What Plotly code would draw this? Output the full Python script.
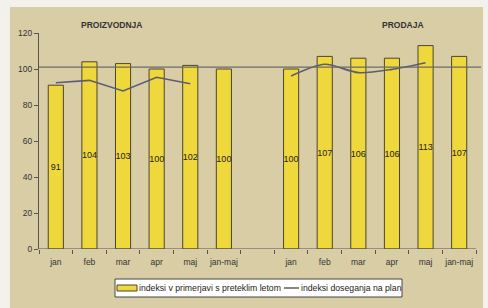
import plotly.graph_objects as go

months = ["jan", "feb", "mar", "apr", "maj", "jan-maj"]
proizvodnja_idx = [91, 104, 103, 100, 102, 100]
prodaja_idx = [100, 107, 106, 106, 113, 107]
proizvodnja_plan = [92.4, 93.7, 87.8, 95.4, 91.8]
prodaja_plan = [96.1, 102.6, 98.0, 99.8, 103.5]
plan_level = 101
yticks = [0, 20, 40, 60, 80, 100, 120]
legend_bars = "indeksi v primerjavi s preteklim letom"
legend_line = "indeksi doseganja na plan"

x_proizv = list(range(len(months)))
x_prod = [i + len(months) + 1 for i in range(len(months))]

FONT = "Arial, Liberation Sans, sans-serif"
YELLOW = "#efd83c"
BAR_LINE = "#4a4530"
LINE_C = "#5c5c72"

L, T, W, H = 39, 33, 437, 216


def px(X):
    return (X - L) / W


def py(Y):
    return (T + H - Y) / H


fig = go.Figure()
fig.add_trace(go.Bar(
    x=x_proizv + x_prod,
    y=proizvodnja_idx + prodaja_idx,
    text=[str(v) for v in proizvodnja_idx + prodaja_idx],
    textposition="inside", insidetextanchor="middle", constraintext="none",
    textangle=0,
    textfont=dict(size=9, color="#222", family=FONT),
    marker=dict(color=YELLOW, line=dict(color=BAR_LINE, width=1)),
    width=0.45,
    name=legend_bars, showlegend=False,
))
fig.add_trace(go.Scatter(
    x=x_proizv[:len(proizvodnja_plan)], y=proizvodnja_plan, mode="lines",
    line=dict(color=LINE_C, width=1.6),
    name=legend_line, showlegend=False,
))
fig.add_trace(go.Scatter(
    x=x_prod[:len(prodaja_plan)], y=prodaja_plan, mode="lines",
    line=dict(color=LINE_C, width=1.6, shape="spline", smoothing=0.8),
    name=legend_line, showlegend=False,
))

# beige panel
fig.add_shape(type="rect", xref="paper", yref="paper",
              x0=px(10), x1=px(483), y0=py(320), y1=py(7),
              fillcolor="#d9cda5", line=dict(width=0), layer="below")
# reference line
fig.add_shape(type="line", xref="paper", yref="y",
              x0=0, x1=px(481), y0=plan_level, y1=plan_level,
              line=dict(color="#6a6a6a", width=1.2))
# x axis baseline
fig.add_shape(type="line", xref="paper", yref="y", x0=0, x1=1, y0=0, y1=0,
              line=dict(color="#555", width=1.2))

fig.add_annotation(text="<b>PROIZVODNJA</b>", xref="paper", yref="paper",
                   x=px(111), y=py(25), xanchor="center", yanchor="middle",
                   showarrow=False,
                   font=dict(size=8.5, color="#333", family=FONT))
fig.add_annotation(text="<b>PRODAJA</b>", xref="paper", yref="paper",
                   x=px(403), y=py(25), xanchor="center", yanchor="middle",
                   showarrow=False,
                   font=dict(size=8.5, color="#333", family=FONT))

# manual legend
fig.add_shape(type="rect", xref="paper", yref="paper",
              x0=px(115), x1=px(402), y0=py(297), y1=py(279),
              fillcolor="white", line=dict(color="#444", width=1))
fig.add_shape(type="rect", xref="paper", yref="paper",
              x0=px(117), x1=px(137), y0=py(291), y1=py(285),
              fillcolor=YELLOW, line=dict(color=BAR_LINE, width=1))
fig.add_annotation(text=legend_bars, xref="paper", yref="paper",
                   x=px(137), y=py(288), xanchor="left", yanchor="middle",
                   showarrow=False,
                   font=dict(size=8.7, color="#222", family=FONT))
fig.add_shape(type="line", xref="paper", yref="paper",
              x0=px(284), x1=px(299), y0=py(288), y1=py(288),
              line=dict(color=LINE_C, width=1.5))
fig.add_annotation(text=legend_line, xref="paper", yref="paper",
                   x=px(299), y=py(288), xanchor="left", yanchor="middle",
                   showarrow=False,
                   font=dict(size=8.7, color="#222", family=FONT))

fig.update_layout(
    width=488, height=308,
    margin=dict(l=L, r=488 - L - W, t=T, b=308 - T - H, autoexpand=False),
    paper_bgcolor="#f3f1ec", plot_bgcolor="rgba(0,0,0,0)",
    font=dict(family=FONT, size=9, color="#333"),
    showlegend=False,
    bargap=0,
)
fig.update_xaxes(
    range=[-0.5, len(months) * 2 + 0.5],
    tickvals=x_proizv + x_prod, ticktext=months + months,
    ticks="", showgrid=False, zeroline=False,
    showline=False, automargin=False, ticklabelstandoff=6,
    tickfont=dict(size=8.5, color="#333"),
    minor=dict(tick0=-0.5, dtick=1, ticks="outside", ticklen=4,
               tickcolor="#555", showgrid=False),
)
fig.update_yaxes(
    range=[0, 120], tickvals=yticks, ticks="outside", ticklen=4,
    tickcolor="#555", showgrid=False, zeroline=False, automargin=False,
    showline=True, linecolor="#555", linewidth=1,
    tickfont=dict(size=8.5, color="#333"),
)

fig.write_html("out.html",
               config={"displayModeBar": False, "staticPlot": True},
               post_script="document.body.style.margin='0';"
                           "document.body.style.background='#f3f1ec';")
